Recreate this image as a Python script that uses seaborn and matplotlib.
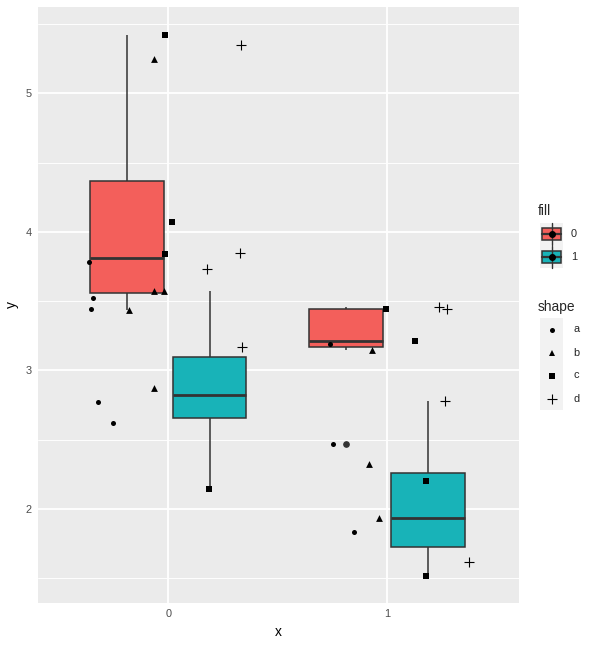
import numpy as np
import pandas as pd
import matplotlib
matplotlib.use("Agg")
import matplotlib.pyplot as plt
from matplotlib.patches import Rectangle
import seaborn as sns

# ---- data ----
x_group = [0, 0, 0, 0, 0, 0, 0, 0, 0, 0, 0, 0, 0, 0, 0, 0, 0, 0,
           1, 1, 1, 1, 1, 1, 1, 1, 1, 1, 1, 1, 1, 1]
y_vals = [5.424, 5.25, 5.345, 4.07, 3.845, 3.84, 3.73, 3.78, 3.57, 3.57,
          3.52, 3.44, 3.435, 3.17, 2.875, 2.77, 2.62, 2.14,
          3.44, 3.46, 3.44, 3.215, 3.19, 3.15, 2.465,
          2.78, 2.32, 2.2, 1.935, 1.835, 1.615, 1.513]
fill_vals = ["0", "0", "0", "0", "0", "0", "0", "0", "0", "1",
             "0", "0", "0", "1", "1", "1", "1", "1",
             "0", "0", "0", "0", "0", "0", "0",
             "1", "1", "1", "1", "1", "1", "1"]
shape_vals = ["c", "b", "d", "c", "d", "c", "d", "a", "b", "b",
              "a", "a", "b", "d", "b", "a", "a", "c",
              "c", "d", "d", "c", "a", "b", "a",
              "d", "b", "c", "b", "a", "d", "c"]
# jittered horizontal positions of the points
x_jit = [-0.017, -0.067, 0.333, 0.018, 0.327, -0.018, 0.175, -0.361, -0.064, -0.021,
         -0.346, -0.352, -0.180, 0.335, -0.065, -0.323, -0.253, 0.184,
         0.994, 1.236, 1.272, 1.128, 0.738, 0.928, 0.753,
         1.265, 0.918, 1.176, 0.963, 0.848, 1.372, 1.175]

fill_levels = ["0", "1"]
shape_levels = ["a", "b", "c", "d"]
y_ticks = [2, 3, 4, 5]
x_ticks = [0, 1]

df = pd.DataFrame({"x": x_group, "y": y_vals, "fill": fill_vals,
                   "shape": shape_vals, "xj": x_jit})

# ---- style ----
RED = "#F35F5B"
TEAL = "#18B3B8"
pal = {"0": RED, "1": TEAL}
EDGE = "#333333"
PANEL = "#EBEBEB"
FONT = ["Liberation Sans", "DejaVu Sans"]

sns.set_style("white")
plt.rcParams["font.family"] = FONT

W, H = 595, 645
fig = plt.figure(figsize=(W / 100, H / 100), dpi=100)
L, R, T, B = 38, 518.7, 6.7, 602.7
ax = fig.add_axes([L / W, 1 - B / H, (R - L) / W, (B - T) / H])
ax.set_facecolor(PANEL)

sns.boxplot(data=df, x="x", y="y", hue="fill", hue_order=fill_levels,
            native_scale=True, width=0.75, gap=0.1, dodge=True,
            palette=pal, saturation=1, showcaps=False, whis=1.5,
            linecolor=EDGE, linewidth=1.1,
            medianprops={"linewidth": 2.0, "color": EDGE},
            flierprops={"marker": "o", "markerfacecolor": EDGE,
                        "markeredgecolor": EDGE, "markersize": 3.8},
            legend=False, ax=ax, zorder=3)

marker_map = {"a": "o", "b": "^", "c": "s", "d": "+"}
size_map = {"a": 13, "b": 24, "c": 17, "d": 44}
for s in shape_levels:
    sub = df[df["shape"] == s]
    if s == "d":
        sns.scatterplot(x=sub["xj"], y=sub["y"], marker="+", color="black",
                        s=size_map[s], linewidth=0.8, ax=ax, legend=False, zorder=5)
    else:
        sns.scatterplot(x=sub["xj"], y=sub["y"], marker=marker_map[s], color="black",
                        s=size_map[s], linewidth=0, ax=ax, legend=False, zorder=5)

ax.set_xlim(-0.596, 1.60)
ax.set_ylim(1.322, 5.625)
ax.set_xticks(x_ticks)
ax.set_xticklabels([str(v) for v in x_ticks])
ax.set_yticks(y_ticks)
ax.set_yticklabels([str(v) for v in y_ticks])
ax.set_yticks([1.5, 2.5, 3.5, 4.5, 5.5], minor=True)
ax.grid(True, which="major", color="white", linewidth=1.3, zorder=0)
ax.grid(True, which="minor", axis="y", color="white", linewidth=0.65, zorder=0)
ax.set_axisbelow(True)
for sp in ax.spines.values():
    sp.set_visible(False)
ax.tick_params(axis="both", which="major", length=2.5, width=0.8, color=EDGE,
               labelcolor="#4D4D4D", labelsize=7.9, pad=2)
ax.tick_params(axis="both", which="minor", length=0)
ax.set_xlabel("x", fontsize=9.9, color="black", labelpad=4)
ax.set_ylabel("y", fontsize=9.9, color="black", labelpad=5)

# ---- legends (drawn in pixel coordinates) ----
lg = fig.add_axes([0, 0, 1, 1])
lg.set_xlim(0, W)
lg.set_ylim(H, 0)
lg.axis("off")
lg.patch.set_alpha(0)

kx0, kw, kh = 540, 23, 22.8
lg.text(538, 211, "fill", fontsize=9.9, va="center", ha="left")
top = 222.7
for i, lev in enumerate(fill_levels):
    y0 = top + i * kh
    cy = y0 + kh / 2
    lg.add_patch(Rectangle((kx0, y0), kw, kh, facecolor="#F2F2F2", edgecolor="none"))
    lg.plot([kx0 + kw / 2] * 2, [y0 + 0.5, y0 + kh - 0.5], color=EDGE, lw=1.0)
    lg.add_patch(Rectangle((kx0 + 1.8, cy - 6.2), kw - 3.6, 12.4, facecolor=pal[lev],
                           edgecolor=EDGE, lw=1.1))
    lg.plot([kx0 + 1.8, kx0 + kw - 1.8], [cy, cy], color=EDGE, lw=1.6)
    lg.plot([kx0 + kw / 2], [cy], marker="o", color="black", markersize=4.0)
    lg.text(571, cy, lev, fontsize=7.9, va="center", ha="left")

lg.text(538, 307, "shape", fontsize=9.9, va="center", ha="left")
top2 = 318
for i, lev in enumerate(shape_levels):
    y0 = top2 + i * 23
    cy = y0 + 11.5
    lg.add_patch(Rectangle((kx0, y0), kw, 23, facecolor="#F2F2F2", edgecolor="none"))
    if lev == "d":
        lg.plot([kx0 + kw / 2], [cy], marker="+", color="black",
                markersize=np.sqrt(size_map[lev]), markeredgewidth=0.8)
    else:
        lg.plot([kx0 + kw / 2], [cy], marker=marker_map[lev], color="black",
                markersize=np.sqrt(size_map[lev]), markeredgewidth=0)
    lg.text(573, cy, lev, fontsize=7.9, va="center", ha="left")

fig.savefig("out.png", dpi=100)
